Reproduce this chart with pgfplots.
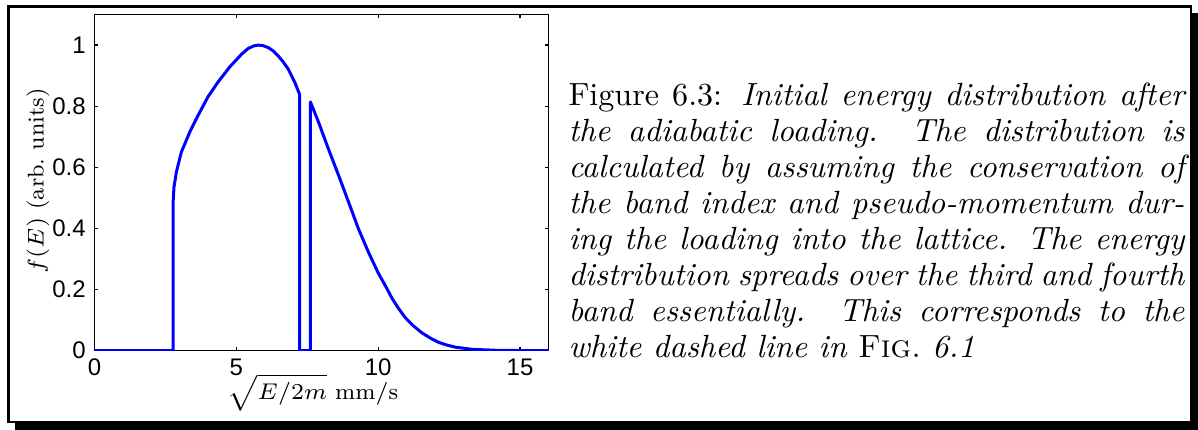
\documentclass[border=0pt]{standalone}
\usepackage{fix-cm}
\usepackage{fontspec}
\usepackage{pgfplots}
\pgfplotsset{compat=1.18}
\newfontfamily\helv{Liberation Sans}

% f(E)
\pgfplotstableread{
x      y
0      0
2.77   0
2.77   0.487
2.80   0.535
2.885  0.585
3.06   0.650
3.36   0.716
3.65   0.770
4.00   0.831
4.36   0.880
4.77   0.929
5.18   0.970
5.40   0.988
5.60   0.997
5.77   1.000
5.95   0.998
6.12   0.992
6.30   0.981
6.47   0.965
6.65   0.945
6.83   0.921
7.06   0.878
7.23   0.838
7.23   0
7.61   0
7.61   0.814
7.89   0.749
8.24   0.661
8.60   0.574
8.95   0.487
9.30   0.399
9.66   0.321
10.01  0.252
10.30  0.204
10.48  0.172
10.70  0.140
10.95  0.108
11.25  0.080
11.54  0.058
11.85  0.040
12.13  0.027
12.42  0.018
12.72  0.011
13.31  0.004
14.13  0.001
15.07  0
16     0
}\fE

\begin{document}
\begin{tikzpicture}[x=1pt,y=1pt]
\path[use as bounding box] (0,0) rectangle (399.33,143.33);
% shadowed frame
\fill[black] (5,0) rectangle (399.33,139);
\filldraw[fill=white,draw=black,line width=0.8pt] (2.83,2.67) rectangle (397,141.17);

\begin{axis}[
  at={(33.33,26)}, anchor=south west,
  scale only axis,
  width=151.3pt, height=112pt,
  xmin=0, xmax=16, ymin=0, ymax=1.1,
  xtick={0,5,10,15},
  ytick={0,0.2,0.4,0.6,0.8,1},
  tick align=inside,
  major tick length=1.3pt,
  axis line style={line width=0.45pt},
  tick style={line width=0.4pt,black},
  /pgf/number format/assume math mode=true,
  tick label style={font=\fontsize{8}{9}\helv},
  xticklabel style={inner ysep=1pt, yshift=-1.6pt},
  yticklabel style={xshift=0.6pt},
  xlabel={$\sqrt{E/2m}$ $\mathrm{mm/s}$},
  ylabel={$f(E)$ (arb.\ units)},
  label style={font=\fontsize{7.6}{9}\selectfont},
  xlabel style={at={(axis description cs:0.481,-0.147)}, anchor=base, inner sep=0pt},
  ylabel style={at={(axis description cs:-0.125,0.505)}, anchor=center, rotate=0},
]
\addplot[color={rgb,255:red,0;green,0;blue,255}, line width=1pt, line join=round] table[x=x,y=y] {\fE};
\end{axis}

\node[anchor=base west, inner sep=0pt] at (189.3,108) {%
  \parbox[t]{205.3pt}{\fontsize{10.7}{12}\selectfont
  Figure 6.3: \textit{Initial energy distribution after\linebreak
  the adiabatic loading.  The distribution is\linebreak
  calculated by assuming the conservation of\linebreak
  the band index and pseudo-momentum dur-\linebreak
  ing the loading into the lattice.  The energy\linebreak
  distribution spreads over the third and fourth\linebreak
  band essentially.  This corresponds to the\linebreak
  white dashed line in} \textsc{Fig.}~\textit{6.1}}};
\end{tikzpicture}
\end{document}
